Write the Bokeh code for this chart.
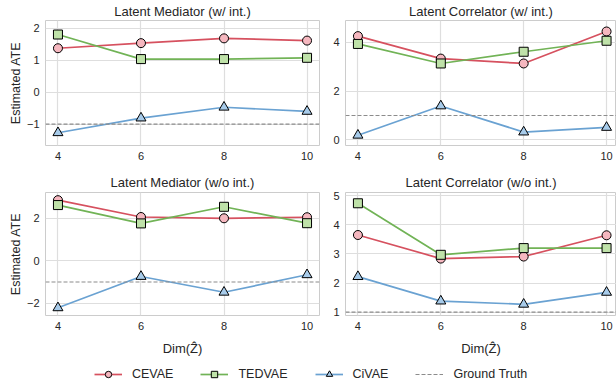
from bokeh.plotting import figure
from bokeh.layouts import column, row
from bokeh.models import FixedTicker, CustomJSTickFormatter, Range1d, Legend, LegendItem, Span
from bokeh.embed import file_html
from bokeh.resources import INLINE

# ---------------- data ----------------
dims = [4, 6, 8, 10]
x_ticks = [4, 6, 8, 10]

# Latent Mediator (w/ int.)
med_int_cevae = [1.38, 1.54, 1.69, 1.62]
med_int_tedvae = [1.81, 1.04, 1.04, 1.08]
med_int_civae = [-1.27, -0.81, -0.47, -0.60]
med_int_truth = -1.0
med_int_yticks = [-1, 0, 1, 2]

# Latent Correlator (w/ int.)
cor_int_cevae = [4.25, 3.33, 3.13, 4.44]
cor_int_tedvae = [3.93, 3.13, 3.61, 4.06]
cor_int_civae = [0.19, 1.39, 0.32, 0.51]
cor_int_truth = 1.0
cor_int_yticks = [0, 2, 4]

# Latent Mediator (w/o int.)
med_noint_cevae = [2.84, 2.05, 1.99, 2.04]
med_noint_tedvae = [2.61, 1.75, 2.53, 1.76]
med_noint_civae = [-2.21, -0.74, -1.48, -0.66]
med_noint_truth = -1.0
med_noint_yticks = [-2, 0, 2]

# Latent Correlator (w/o int.)
cor_noint_cevae = [3.65, 2.84, 2.91, 3.64]
cor_noint_tedvae = [4.74, 2.97, 3.20, 3.20]
cor_noint_civae = [2.22, 1.38, 1.27, 1.68]
cor_noint_truth = 1.0
cor_noint_yticks = [1, 2, 3, 4, 5]

methods = ["CEVAE", "TEDVAE", "CiVAE"]
truth_label = "Ground Truth"

# ---------------- style ----------------
FONT = "Liberation Sans"
TXT = "#262626"
GRID = "#dedede"
FRAME = "#cccccc"
STYLES = {
    "CEVAE": dict(line="#d6515f", fill="#f5b7bf", marker="circle", size=9),
    "TEDVAE": dict(line="#71b356", fill="#bfe2a9", marker="square", size=9),
    "CiVAE": dict(line="#6aa2d2", fill="#a7cbea", marker="triangle", size=10),
}
TRUTH_COLOR = "#8c8c8c"

minus_fmt = "return (tick < 0 ? '\u2212' : '') + Math.abs(tick).toString();"


def panel(title, series, truth, yticks, xrange, yrange, width, height, left, right, top, bottom,
          title_standoff, ylabel=None, xlabel=None):
    p = figure(width=width, height=height, output_backend="svg", toolbar_location=None,
               x_range=Range1d(*xrange), y_range=Range1d(*yrange),
               min_border_left=left, min_border_right=right,
               min_border_top=top, min_border_bottom=bottom)
    p.title.text = title
    p.title.align = "center"
    p.title.text_font = FONT
    p.title.text_font_size = "13px"
    p.title.text_font_style = "normal"
    p.title.text_color = TXT
    p.title.standoff = title_standoff
    p.outline_line_color = FRAME
    p.outline_line_width = 1
    p.background_fill_color = "white"
    p.border_fill_color = "white"

    for ax in (p.xaxis, p.yaxis):
        ax.axis_line_color = None
        ax.major_tick_line_color = None
        ax.minor_tick_line_color = None
        ax.major_tick_out = 0
        ax.major_tick_in = 0
        ax.major_label_text_font = FONT
        ax.major_label_text_font_size = "11px"
        ax.major_label_text_color = TXT
        ax.axis_label_text_font = FONT
        ax.axis_label_text_font_size = "12.5px"
        ax.axis_label_text_font_style = "normal"
        ax.axis_label_text_color = TXT
    p.xaxis.ticker = FixedTicker(ticks=x_ticks)
    p.yaxis.ticker = FixedTicker(ticks=yticks)
    p.yaxis.formatter = CustomJSTickFormatter(code=minus_fmt)
    p.xaxis.major_label_standoff = 6
    p.yaxis.major_label_standoff = 6
    if ylabel:
        p.yaxis.axis_label = ylabel
        p.yaxis.axis_label_standoff = 1
    if xlabel:
        p.xaxis.axis_label = xlabel
        p.xaxis.axis_label_text_font_size = "13px"
        p.xaxis.axis_label_standoff = 8

    p.xgrid.grid_line_color = GRID
    p.ygrid.grid_line_color = GRID
    p.xgrid.grid_line_width = 1.2
    p.ygrid.grid_line_width = 1.2

    p.add_layout(Span(location=truth, dimension="width", line_color=TRUTH_COLOR,
                      line_width=1.1, line_dash="4 2"))

    for name, ys in zip(methods, series):
        st = STYLES[name]
        p.line(dims, ys, line_color=st["line"], line_width=1.7)
        p.scatter(dims, ys, marker=st["marker"], size=st["size"], fill_color=st["fill"],
                  line_color="black", line_width=1)
    return p


W_L, W_R = 327, 289
H_T, H_B = 167, 191
X_L = (3.7, 10.3)
X_R = (3.7, 10.24)

p1 = panel("Latent Mediator (w/ int.)", [med_int_cevae, med_int_tedvae, med_int_civae],
           med_int_truth, med_int_yticks, X_L, (-1.67, 2.25), W_L, H_T, 45, 8, 17, 22, 3,
           ylabel="Estimated ATE")
p2 = panel("Latent Correlator (w/ int.)", [cor_int_cevae, cor_int_tedvae, cor_int_civae],
           cor_int_truth, cor_int_yticks, X_R, (-0.23, 4.89), W_R, H_T, 18, 0, 17, 22, 3)
p3 = panel("Latent Mediator (w/o int.)", [med_noint_cevae, med_noint_tedvae, med_noint_civae],
           med_noint_truth, med_noint_yticks, X_L, (-2.57, 3.2), W_L, H_B, 45, 8, 25, 41, 6,
           ylabel="Estimated ATE", xlabel="Dim(\u1E90)")
p4 = panel("Latent Correlator (w/o int.)", [cor_noint_cevae, cor_noint_tedvae, cor_noint_civae],
           cor_noint_truth, cor_noint_yticks, X_R, (0.885, 5.11), W_R, H_B, 18, 0, 25, 41, 6,
           xlabel="Dim(\u1E90)")

# legend strip (legend renderers hold real series but sit outside the visible range)
lg = figure(width=W_L + W_R, height=26, output_backend="svg", toolbar_location=None,
            min_border=0, x_range=Range1d(0, 1), y_range=Range1d(0, 1))
lg.outline_line_color = None
lg.axis.visible = False
lg.grid.visible = False
items = []
for name, ys in zip(methods, [med_int_cevae, med_int_tedvae, med_int_civae]):
    st = STYLES[name]
    r_line = lg.line(dims, ys, line_color=st["line"], line_width=1.7)
    r_mark = lg.scatter(dims, ys, marker=st["marker"], size=st["size"] - 1, fill_color=st["fill"],
                        line_color="black", line_width=1)
    items.append(LegendItem(label=name, renderers=[r_line, r_mark]))
r_truth = lg.line(dims, [med_int_truth] * len(dims), line_color=TRUTH_COLOR, line_width=1.1,
                  line_dash="4 2")
items.append(LegendItem(label=truth_label, renderers=[r_truth]))
legend = Legend(items=items, orientation="horizontal", location=(94, 2),
                border_line_color=None, background_fill_alpha=0,
                label_text_font=FONT, label_text_font_size="12.5px", label_text_color=TXT,
                glyph_width=28, glyph_height=16, label_standoff=10, spacing=27,
                padding=0, margin=0)
lg.add_layout(legend, "center")

layout = column(row(p1, p2), row(p3, p4), lg)

with open("out.html", "w", encoding="utf-8") as f:
    f.write(file_html(layout, INLINE))
